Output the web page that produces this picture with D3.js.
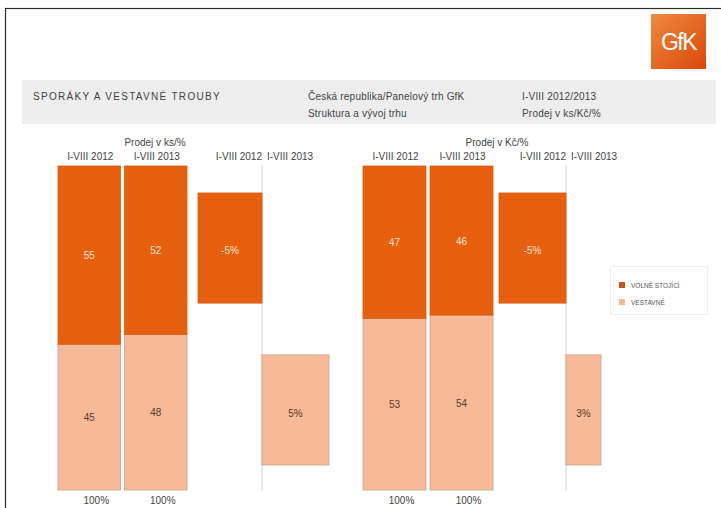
<!DOCTYPE html>
<html>
<head>
<meta charset="utf-8">
<script src="https://cdn.jsdelivr.net/npm/d3@7"></script>
<style>
  html, body { margin: 0; padding: 0; background: #fff; }
  svg { display: block; font-family: "Liberation Sans", Arial, sans-serif; }
</style>
</head>
<body>
<svg id="chart" width="721" height="508"></svg>
<script>
// ---------- data ----------
const periods = ["I-VIII 2012", "I-VIII 2013"];
const series = ["VOLNĚ STOJÍCÍ", "VESTAVNÉ"];
const volneKs = [55, 52];
const vestavneKs = [45, 48];
const volneKc = [47, 46];
const vestavneKc = [53, 54];
const changeKs = ["-5%", "5%"];
const changeKc = ["-5%", "3%"];
const totals = ["100%", "100%"];
const panelTitles = ["Prodej v ks/%", "Prodej v Kč/%"];
const headerTexts = [
  ["SPORÁKY A VESTAVNÉ TROUBY"],
  ["Česká republika/Panelový trh GfK", "Struktura a vývoj trhu"],
  ["I-VIII 2012/2013", "Prodej v ks/Kč/%"]
];

// ---------- style ----------
const ORANGE = "#E7600F";
const PEACH = "#F6BA99";
const PEACH_STROKE = "#c9a08a";
const TXT = "#444";
const FS = 10;

const svg = d3.select("#chart");

// frame
svg.append("rect").attr("x", 5.5).attr("y", 8.5).attr("width", 760).attr("height", 520)
  .attr("fill", "#fff").attr("stroke", "#2b2b2b").attr("stroke-width", 1.2);

// GfK logo
const defs = svg.append("defs");
const lg = defs.append("linearGradient").attr("id", "logoGrad")
  .attr("x1", 0).attr("y1", 0).attr("x2", 1).attr("y2", 1);
lg.append("stop").attr("offset", "0%").attr("stop-color", "#f08a3c");
lg.append("stop").attr("offset", "100%").attr("stop-color", "#d9480a");
svg.append("rect").attr("x", 651).attr("y", 14).attr("width", 55).attr("height", 55)
  .attr("fill", "url(#logoGrad)");
svg.append("text").attr("x", 678.5).attr("y", 50).attr("text-anchor", "middle")
  .attr("fill", "#fff").attr("font-size", 23).attr("letter-spacing", -1.5)
  .attr("font-family", "'Liberation Sans Narrow', 'Liberation Sans', sans-serif")
  .text("GfK");

// header band
svg.append("rect").attr("x", 22).attr("y", 80).attr("width", 694).attr("height", 44)
  .attr("fill", "#ededed");
const headerX = [33, 308, 522];
headerTexts.forEach((lines, i) => {
  lines.forEach((t, j) => {
    svg.append("text").attr("x", headerX[i]).attr("y", 100 + j * 17)
      .attr("font-size", 10).attr("letter-spacing", i === 0 ? 1.3 : 0.2)
      .attr("fill", TXT).text(t);
  });
});

// ---------- panels ----------
const plotTop = 166, plotBottom = 490;
const y = d3.scaleLinear().domain([0, 100]).range([plotBottom, plotTop]);

const panels = [
  { title: panelTitles[0], titleX: 155, volne: volneKs, vest: vestavneKs, change: changeKs,
    barRange: [58, 187], chgX: [198, 262, 329] },
  { title: panelTitles[1], titleX: 497, volne: volneKc, vest: vestavneKc, change: changeKc,
    barRange: [363, 493], chgX: [499, 566, 601] }
];

// vertical placement of the change (waterfall) bars
const chgY = d3.scaleBand().domain(series).range([193, 465]).paddingInner(0.32).paddingOuter(0);

panels.forEach(p => {
  const g = svg.append("g");
  const x = d3.scaleBand().domain(periods).range(p.barRange).paddingInner(0.06).paddingOuter(0);

  const rows = periods.map((per, i) => ({ period: per, [series[0]]: p.volne[i], [series[1]]: p.vest[i] }));
  const stack = d3.stack().keys([series[1], series[0]])(rows);

  // panel title
  g.append("text").attr("x", p.titleX).attr("y", 146)
    .attr("text-anchor", "middle").attr("font-size", FS).attr("fill", TXT).text(p.title);

  // period labels over stacked bars
  periods.forEach(per => {
    g.append("text").attr("x", x(per) + x.bandwidth() / 2 + 1).attr("y", 160)
      .attr("text-anchor", "middle").attr("font-size", FS).attr("fill", TXT).text(per);
  });

  // stacked bars
  stack.forEach(layer => {
    const isVolne = layer.key === series[0];
    g.selectAll(null).data(layer).join("rect")
      .attr("x", d => x(d.data.period))
      .attr("width", x.bandwidth())
      .attr("y", d => y(d[1]))
      .attr("height", d => y(d[0]) - y(d[1]))
      .attr("fill", isVolne ? ORANGE : PEACH)
      .attr("stroke", isVolne ? "#d6580e" : PEACH_STROKE)
      .attr("stroke-width", 0.8);
    g.selectAll(null).data(layer).join("text")
      .attr("x", d => x(d.data.period) + x.bandwidth() / 2)
      .attr("y", d => (y(d[0]) + y(d[1])) / 2 + 4)
      .attr("text-anchor", "middle").attr("font-size", FS)
      .attr("fill", isVolne ? "#fde3cf" : "#5a3a28")
      .text(d => d.data[layer.key]);
  });

  // totals below
  periods.forEach((per, i) => {
    g.append("text").attr("x", x(per) + x.bandwidth() / 2 + 7).attr("y", 504)
      .attr("text-anchor", "middle").attr("font-size", FS).attr("fill", TXT).text(totals[i]);
  });

  // divider line
  g.append("line").attr("x1", p.chgX[1]).attr("x2", p.chgX[1]).attr("y1", 165).attr("y2", 490)
    .attr("stroke", "#cfcfcf").attr("stroke-width", 1);

  // change period labels
  g.append("text").attr("x", p.chgX[1]).attr("y", 160).attr("text-anchor", "end")
    .attr("font-size", FS).attr("fill", TXT).text(periods[0]);
  g.append("text").attr("x", p.chgX[1] + 5).attr("y", 160).attr("text-anchor", "start")
    .attr("font-size", FS).attr("fill", TXT).text(periods[1]);

  // change bars
  series.forEach((s, i) => {
    const x0 = p.chgX[i], x1 = p.chgX[i + 1];
    const isVolne = i === 0;
    g.append("rect").attr("x", x0).attr("width", x1 - x0)
      .attr("y", chgY(s)).attr("height", chgY.bandwidth())
      .attr("fill", isVolne ? ORANGE : PEACH)
      .attr("stroke", isVolne ? "#d6580e" : PEACH_STROKE).attr("stroke-width", 0.8);
    g.append("text").attr("x", (x0 + x1) / 2).attr("y", chgY(s) + (isVolne ? 61 : 62))
      .attr("text-anchor", "middle").attr("font-size", FS)
      .attr("fill", isVolne ? "#fde3cf" : "#5a3a28").text(p.change[i]);
  });
});

// legend
const leg = svg.append("g");
leg.append("rect").attr("x", 610.5).attr("y", 266.5).attr("width", 97).attr("height", 48)
  .attr("fill", "#fff").attr("stroke", "#efefef");
series.forEach((s, i) => {
  leg.append("rect").attr("x", 619).attr("y", 282 + i * 17).attr("width", 6).attr("height", 6)
    .attr("fill", i === 0 ? "#c8541a" : "#f0b898");
  leg.append("text").attr("x", 631).attr("y", 288 + i * 17).attr("font-size", 6.5)
    .attr("fill", "#555").text(s);
});
</script>
</body>
</html>
